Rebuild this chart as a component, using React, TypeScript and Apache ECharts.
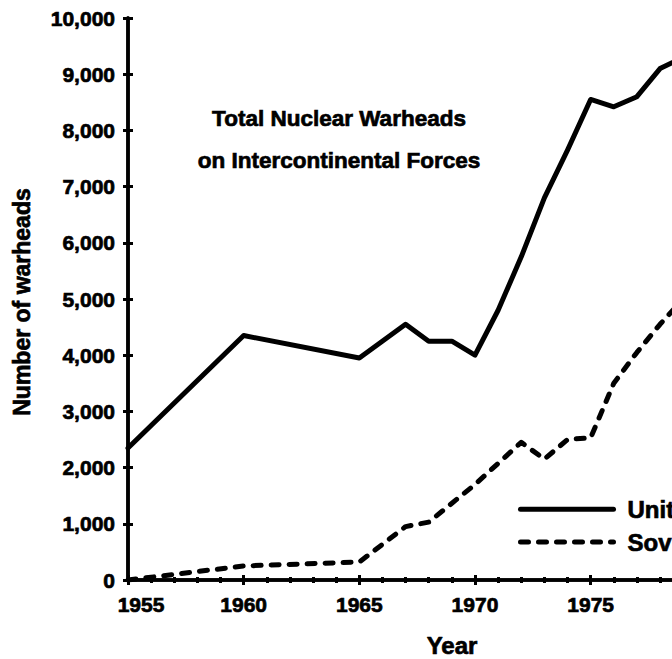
import React, { useEffect, useRef } from "react";
import * as echarts from "echarts";

const usYears = [1955, 1960, 1965, 1967, 1968, 1969, 1970, 1971, 1972, 1973, 1974, 1975, 1976, 1977, 1978, 1979];
const usWarheads = [2350, 4350, 3950, 4550, 4250, 4250, 4000, 4800, 5750, 6800, 7650, 8550, 8420, 8600, 9100, 9300];

const suYears = [1955, 1956, 1960, 1965, 1967, 1968, 1970, 1972, 1973, 1974, 1975, 1976, 1977, 1978, 1979];
const suWarheads = [0, 50, 250, 320, 950, 1030, 1700, 2450, 2150, 2500, 2530, 3500, 4050, 4550, 5000];

const seriesNames = ["United States", "Soviet Union"];
const chartTitle = "Total Nuclear Warheads\non Intercontinental Forces";
const yAxisTitle = "Number of warheads";
const xAxisTitle = "Year";

const FONT = '"Liberation Sans", Arial, Helvetica, sans-serif';

export default function App() {
  const ref = useRef<HTMLDivElement>(null);
  useEffect(() => {
    if (!ref.current) return;
    const chart = echarts.init(ref.current, null, { renderer: "svg" });
    const labelStyle = {
      color: "#000",
      fontFamily: FONT,
      fontWeight: "bold" as const,
      fontSize: 20,
      textBorderColor: "#000",
      textBorderWidth: 0.7,
    };
    const axisLineStyle = { color: "#000", width: 3.5 };
    const xBase = {
      type: "value" as const,
      min: 1955,
      max: 1983,
      interval: 5,
      position: "bottom" as const,
      splitLine: { show: false },
      axisLine: { show: true, lineStyle: axisLineStyle },
    };
    const yBase = {
      type: "value" as const,
      min: 0,
      max: 10000,
      interval: 1000,
      position: "left" as const,
      splitLine: { show: false },
      axisLine: { show: true, lineStyle: axisLineStyle },
    };
    const gText = (text: string, x: number, y: number, extra: any = {}) => ({
      type: "text",
      x,
      y,
      ...extra,
      style: {
        text,
        textAlign: "center",
        textVerticalAlign: "middle",
        font: `bold 22px ${FONT}`,
        fill: "#000",
        stroke: "#000",
        lineWidth: 0.7,
        ...(extra.style || {}),
      },
    });
    chart.setOption({
      animation: false,
      backgroundColor: "#fff",
      grid: { left: 128, top: 18, width: 647.7, height: 562, outerBoundsMode: "none", containLabel: false },
      legend: {
        data: seriesNames,
        orient: "vertical",
        left: 518,
        top: 497,
        padding: 0,
        itemWidth: 93,
        itemHeight: 22,
        itemGap: 8,
        itemStyle: { opacity: 0 },
        lineStyle: { width: 5 },
        textStyle: { ...labelStyle, fontSize: 24, lineHeight: 22, padding: [0, 0, 0, 9] },
      },
      xAxis: [
        {
          ...xBase,
          axisTick: { show: true, length: 5, lineStyle: { color: "#000", width: 3 } },
          minorTick: { show: true, splitNumber: 5, length: 3, lineStyle: { color: "#000", width: 3 } },
          axisLabel: {
            ...labelStyle,
            fontSize: 21,
            margin: 14,
            formatter: (v: number) => (v === 1955 ? "{first|1955}" : String(v)),
            rich: { first: { ...labelStyle, fontSize: 21, padding: [0, 0, 0, 26] } },
          },
        },
        {
          ...xBase,
          axisTick: { show: true, inside: true, length: 5, lineStyle: { color: "#000", width: 3 } },
          minorTick: { show: true, splitNumber: 5, length: 3, lineStyle: { color: "#000", width: 3 } },
          axisLabel: { show: false },
        },
      ],
      yAxis: [
        {
          ...yBase,
          axisTick: { show: true, length: 5, lineStyle: { color: "#000", width: 3 } },
          axisLabel: {
            ...labelStyle,
            fontSize: 21,
            margin: 13,
            formatter: (v: number) => v.toLocaleString("en-US"),
          },
        },
        {
          ...yBase,
          axisTick: { show: true, inside: true, length: 5, lineStyle: { color: "#000", width: 3 } },
          axisLabel: { show: false },
        },
      ],
      graphic: [
        gText(chartTitle, 339, 139, { style: { lineHeight: 42, font: `bold 22.5px ${FONT}` } }),
        gText(yAxisTitle, 22, 302, { rotation: Math.PI / 2, style: { font: `bold 23px ${FONT}` } }),
        gText(xAxisTitle, 452, 645, { style: { font: `bold 24px ${FONT}` } }),
      ],
      series: [
        {
          name: seriesNames[0],
          type: "line",
          symbol: "none",
          showSymbol: false,
          xAxisIndex: 0,
          yAxisIndex: 0,
          data: usYears.map((y, i) => [y, usWarheads[i]]),
          lineStyle: { color: "#000", width: 5, type: "solid", cap: "round", join: "round" },
          itemStyle: { color: "#000" },
        },
        {
          name: seriesNames[1],
          type: "line",
          symbol: "none",
          showSymbol: false,
          xAxisIndex: 0,
          yAxisIndex: 0,
          data: suYears.map((y, i) => [y, suWarheads[i]]),
          lineStyle: { color: "#000", width: 5, type: [8, 10], cap: "round", join: "round" },
          itemStyle: { color: "#000" },
        },
      ],
    });
    return () => chart.dispose();
  }, []);
  return (
    <div
      style={{
        position: "fixed",
        left: 0,
        top: 0,
        width: 672,
        height: 659,
        overflow: "hidden",
        background: "#fff",
      }}
    >
      <div ref={ref} style={{ width: 900, height: 659 }} />
    </div>
  );
}
